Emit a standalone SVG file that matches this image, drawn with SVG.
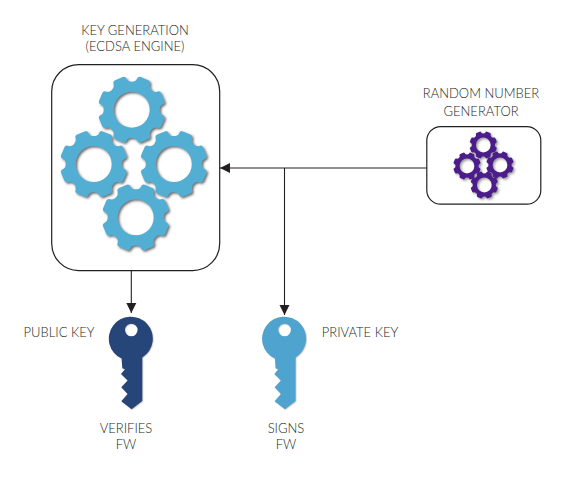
<svg xmlns="http://www.w3.org/2000/svg" xmlns:xlink="http://www.w3.org/1999/xlink" width="568" height="477" viewBox="0 0 568 477">
<style>
text{font-family:"Lato","Liberation Sans",sans-serif;font-size:13px;font-weight:300;fill:#231f20;text-anchor:middle}
.box{fill:#fff;stroke:#231f20;stroke-width:1.2}
.wire{fill:none;stroke:#231f20;stroke-width:1.1}
.blue{fill:#52aed3}
.purple{fill:#4b1d8a}
</style>
<defs>
<filter id="sh" x="-20%" y="-20%" width="150%" height="150%"><feDropShadow dx="1.5" dy="1.5" stdDeviation="1" flood-color="#444" flood-opacity="0.8"/></filter>
<filter id="shs" x="-20%" y="-20%" width="150%" height="150%"><feDropShadow dx="1.5" dy="1.5" stdDeviation="1" flood-color="#555" flood-opacity="0.6"/></filter>
<filter id="shk" x="-20%" y="-20%" width="150%" height="150%"><feDropShadow dx="0.6" dy="0.6" stdDeviation="0.6" flood-color="#777" flood-opacity="0.5"/></filter>
<marker id="arr" markerUnits="userSpaceOnUse" markerWidth="11" markerHeight="11" refX="10" refY="5.5" orient="auto"><path d="M0,0.5L10,5.5L0,10.5Z" fill="#231f20"/></marker>
<path id="gear" fill-rule="evenodd" d="M0,-28Q4,-28 5.1,-30.6Q6.5,-33.7 9,-32.6L16.6,-29.4Q19.2,-28.4 18,-25.2Q17.2,-22.5 19.8,-19.8Q22.5,-17.2 25.2,-18Q28.4,-19.2 29.4,-16.6L32.6,-9Q33.7,-6.5 30.6,-5.1Q28,-4 28,0Q28,4 30.6,5.1Q33.7,6.5 32.6,9L29.4,16.6Q28.4,19.2 25.2,18Q22.5,17.2 19.8,19.8Q17.2,22.5 18,25.2Q19.2,28.4 16.6,29.4L9,32.6Q6.5,33.7 5.1,30.6Q4,28 0,28Q-4,28 -5.1,30.6Q-6.5,33.7 -9,32.6L-16.6,29.4Q-19.2,28.4 -18,25.2Q-17.2,22.5 -19.8,19.8Q-22.5,17.2 -25.2,18Q-28.4,19.2 -29.4,16.6L-32.6,9Q-33.7,6.5 -30.6,5.1Q-28,4 -28,0Q-28,-4 -30.6,-5.1Q-33.7,-6.5 -32.6,-9L-29.4,-16.6Q-28.4,-19.2 -25.2,-18Q-22.5,-17.2 -19.8,-19.8Q-17.2,-22.5 -18,-25.2Q-19.2,-28.4 -16.6,-29.4L-9,-32.6Q-6.5,-33.7 -5.1,-30.6Q-4,-28 0,-28ZM18,0A18,18 0 1 0 -18,0A18,18 0 1 0 18,0Z"/>
<path id="key" fill-rule="evenodd" d="M-9.7,20.3A22,22 0 1 1 11,19.1L11,62.7L0.3,71L-10,63L-3.7,55.7L-10,49L-3.7,42.3L-10.3,35.7L-6.3,31L-9,30ZM6.3,-8.3A6.3,6.3 0 1 0 -6.3,-8.3A6.3,6.3 0 1 0 6.3,-8.3Z"/>
</defs>
<g id="connectors">
<path class="wire" d="M427,168H220" marker-end="url(#arr)"/>
<path class="wire" d="M284.5,168V315" marker-end="url(#arr)"/>
<path class="wire" d="M131.3,271V313" marker-end="url(#arr)"/>
</g>
<g id="key-generation">
<rect class="box" x="51.7" y="64.6" width="168" height="206" rx="27" ry="27"/>
<g class="blue" filter="url(#sh)">
<use xlink:href="#gear" href="#gear" transform="translate(131.7,109.7)"/>
<use xlink:href="#gear" href="#gear" transform="translate(93.7,164)"/>
<use xlink:href="#gear" href="#gear" transform="translate(173.8,164)"/>
<use xlink:href="#gear" href="#gear" transform="translate(135.7,217.3)"/>
</g>
<text x="135" y="35">KEY GENERATION</text>
<text x="135" y="51">(ECDSA ENGINE)</text>
</g>
<g id="random-number-generator">
<rect class="box" x="426.8" y="126.6" width="114" height="77.6" rx="14" ry="14"/>
<g class="purple" filter="url(#shs)">
<use xlink:href="#gear" href="#gear" transform="translate(483.3,145) scale(.41)"/>
<use xlink:href="#gear" href="#gear" transform="translate(467,166) scale(.41)"/>
<use xlink:href="#gear" href="#gear" transform="translate(500,165) scale(.41)"/>
<use xlink:href="#gear" href="#gear" transform="translate(484.3,185) scale(.41)"/>
</g>
<text x="481" y="98">RANDOM NUMBER</text>
<text x="481" y="116">GENERATOR</text>
</g>
<g id="public-key">
<use xlink:href="#key" href="#key" fill="#264478" filter="url(#shk)" transform="translate(131.3,338.3)"/>
<text x="59" y="337">PUBLIC KEY</text>
<text x="126" y="433">VERIFIES</text>
<text x="126" y="449">FW</text>
</g>
<g id="private-key">
<use xlink:href="#key" href="#key" fill="#4fa3cf" filter="url(#shk)" transform="translate(284.6,338.3)"/>
<text x="360" y="337">PRIVATE KEY</text>
<text x="286" y="433">SIGNS</text>
<text x="286" y="449">FW</text>
</g>
</svg>
